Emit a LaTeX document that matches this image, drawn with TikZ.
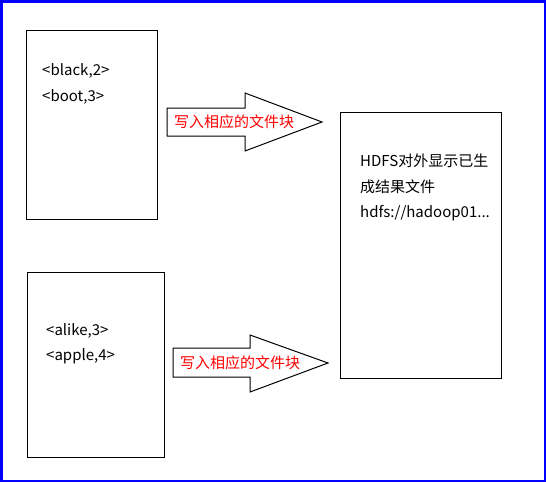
\documentclass[tikz,border=0pt]{standalone}
\usepackage{fontspec}
\setmainfont{Noto Sans CJK SC}
\begin{document}
\begin{tikzpicture}[x=1pt,y=-1pt,
  box/.style={draw,line width=1pt,anchor=north west,inner sep=0pt},
  txt/.style={anchor=west,inner sep=0pt,font=\fontsize{15}{18}\selectfont},
  bigarrow/.style={draw,line width=1pt,fill=white}]
\useasboundingbox (0,0) rectangle (546,482);
\draw[blue,line width=2.5pt] (1.25,1.25) rectangle (544.75,480.75);
% boxes
\node[box,minimum width=131pt,minimum height=189pt] (b1) at (26,30) {};
\node[box,minimum width=137pt,minimum height=185pt] (b2) at (27,272) {};
\node[box,minimum width=161pt,minimum height=266pt] (b3) at (340,112) {};
% box texts
\node[txt] (t11) at (42,71) {<black,2>};
\node[txt] (t12) at (42,97) {<boot,3>};
\node[txt] (t21) at (46,331) {<alike,3>};
\node[txt] (t22) at (46,356) {<apple,4>};
\node[txt] (t31) at (360,161) {HDFS对外显示已生};
\node[txt] (t32) at (360,187) {成结果文件};
\node[txt] (t33) at (360,213) {hdfs://hadoop01...};
% block arrows
\draw[bigarrow] (167,108) -- (245,108) -- (245,93) -- (322,122) -- (245,151) -- (245,136) -- (167,136) -- cycle;
\node[txt,text=red] (a1) at (174,122) {写入相应的文件块};
\draw[bigarrow] (173,348) -- (250,348) -- (250,335) -- (328,363) -- (250,392) -- (250,377) -- (173,377) -- cycle;
\node[txt,text=red] (a2) at (180,363) {写入相应的文件块};
\end{tikzpicture}
\end{document}
